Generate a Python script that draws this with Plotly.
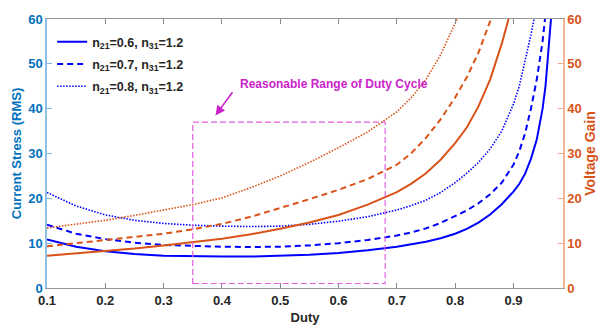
import plotly.graph_objects as go

# Duty cycle samples
duty = [0.1, 0.15, 0.2, 0.25, 0.3, 0.35, 0.4, 0.45, 0.5, 0.55, 0.6, 0.65, 0.7, 0.725, 0.75, 0.775,
        0.8, 0.82, 0.84, 0.86, 0.88, 0.9, 0.91, 0.92, 0.93, 0.94, 0.95, 0.955, 0.96, 0.965]

# Current stress (RMS), left axis
stress_n06 = [10.8, 9.2, 8.2, 7.6, 7.2, 7.05, 7.0, 7.0, 7.15, 7.4, 7.8, 8.4, 9.2, 9.7, 10.3, 11.1,
              12.1, 13.2, 14.6, 16.4, 18.7, 21.5, 23.2, 25.5, 28.8, 33.1, 40.0, 45.0, 52.0, 61.0]
stress_n07 = [14.1, 12.1, 10.9, 10.1, 9.6, 9.35, 9.2, 9.15, 9.2, 9.5, 10.0, 10.7, 11.7, 12.4, 13.3, 14.5,
              16.0, 17.3, 18.9, 20.9, 23.5, 27.5, 30.5, 34.5, 40.0, 46.5, 55.0, 61.0, None, None]
stress_n08 = [21.3, 18.3, 16.3, 15.1, 14.4, 14.0, 13.8, 13.7, 13.8, 14.2, 14.9, 15.9, 17.4, 18.4, 19.6, 21.3,
              23.5, 25.6, 28.0, 31.0, 35.0, 41.0, 45.0, 50.5, 56.5, 63.0, None, None, None, None]

# Voltage gain, right axis
gain_n06 = [7.2, 7.7, 8.2, 8.8, 9.5, 10.2, 11.0, 12.0, 13.2, 14.6, 16.3, 18.6, 21.4, 23.3, 25.6, 28.6,
            32.3, 35.8, 40.5, 46.5, 54.5, 64.0, None, None, None, None, None, None, None, None]
gain_n07 = [9.3, 10.0, 10.8, 11.4, 12.1, 13.1, 14.3, 15.9, 17.8, 19.8, 21.9, 24.3, 27.5, 30.1, 33.5, 37.6,
            42.5, 47.0, 52.5, 59.5, 68.0, None, None, None, None, None, None, None, None, None]
gain_n08 = [13.4, 14.2, 15.1, 16.2, 17.4, 18.6, 20.1, 22.4, 25.0, 28.0, 31.3, 34.8, 39.3, 42.5, 46.5, 52.0,
            59.0, 65.0, None, None, None, None, None, None, None, None, None, None, None, None]

legend_labels = [
    "<b>n<sub>21</sub>=0.6, n<sub>31</sub>=1.2</b>",
    "<b>n<sub>21</sub>=0.7, n<sub>31</sub>=1.2</b>",
    "<b>n<sub>21</sub>=0.8, n<sub>31</sub>=1.2</b>",
]

x_ticks = [0.1, 0.2, 0.3, 0.4, 0.5, 0.6, 0.7, 0.8, 0.9]
y_ticks = [0, 10, 20, 30, 40, 50, 60]

# Highlighted duty-cycle window
range_x = [0.35, 0.68]
range_y = [1, 37]

BLUE = "#0000FF"
ORANGE = "#D95319"
LEFT_C = "#0072BD"
MAGENTA = "#CC22CC"

styles = [("solid", 2.0), ("6px,4px", 2.0), ("1.5px,1.5px", 1.6)]

fig = go.Figure()

for i, (ys, lab, (dash, w)) in enumerate(zip([stress_n06, stress_n07, stress_n08], legend_labels, styles)):
    fig.add_trace(go.Scatter(
        x=duty, y=ys, mode="lines", name=lab, legendgroup="g%d" % i,
        line=dict(color=BLUE, width=w, dash=dash),
        connectgaps=False, yaxis="y",
    ))

for ys, (dash, w) in zip([gain_n06, gain_n07, gain_n08], styles):
    fig.add_trace(go.Scatter(
        x=duty, y=ys, mode="lines", showlegend=False,
        line=dict(color=ORANGE, width=w, dash=dash),
        connectgaps=False, yaxis="y2",
    ))

# Dashed box marking the reasonable duty range
fig.add_shape(type="rect", xref="x", yref="y",
              x0=range_x[0], x1=range_x[1], y0=range_y[0], y1=range_y[1],
              line=dict(color="#E060E0", width=1.2, dash="6px,3px"))

fig.add_annotation(
    x=0.389, y=38.5, ax=0.42, ay=44, xref="x", yref="y", axref="x", ayref="y",
    text="", showarrow=True, arrowhead=2, arrowsize=1.2, arrowwidth=1.6,
    arrowcolor=MAGENTA,
)
fig.add_annotation(
    x=0.428, y=45.6, xref="x", yref="y", xanchor="left", yanchor="middle",
    text="<b>Reasonable Range of Duty Cycle</b>", showarrow=False,
    font=dict(color=MAGENTA, size=12, family="Liberation Sans, Arial"),
)

tick_font = dict(family="Liberation Sans, Arial", size=13)

fig.update_layout(
    width=608, height=335,
    margin=dict(l=47, r=41, t=13, b=46),
    plot_bgcolor="white", paper_bgcolor="white",
    font=dict(family="Liberation Sans, Arial", color="#262626"),
    showlegend=True,
    legend=dict(x=0.01, y=0.97, xanchor="left", yanchor="top",
                bgcolor="rgba(0,0,0,0)", borderwidth=0,
                font=dict(size=12.5, color="#262626"),
                itemwidth=30, tracegroupgap=3),
    xaxis=dict(
        range=[0.1, 0.985], tickvals=x_ticks,
        ticktext=["<b>%.1f</b>" % v for v in x_ticks],
        ticks="inside", ticklen=5, tickcolor="#888888",
        showline=True, linecolor="#999999", linewidth=1, mirror="ticks",
        showgrid=False, zeroline=False,
        tickfont=dict(tick_font, color="#262626"),
        title=dict(text="<b>Duty</b>", font=dict(size=13, color="#262626"), standoff=6),
    ),
    yaxis=dict(
        range=[0, 60], tickvals=y_ticks,
        ticktext=["<b>%d</b>" % v for v in y_ticks],
        ticks="inside", ticklen=5, tickcolor="#7FB8DE",
        showline=True, linecolor="#8FC1E3", linewidth=1.5,
        showgrid=False, zeroline=False,
        tickfont=dict(tick_font, color=LEFT_C),
        title=dict(text="<b>Current Stress (RMS)</b>", font=dict(size=13, color=LEFT_C), standoff=4),
    ),
    yaxis2=dict(
        range=[0, 60], tickvals=y_ticks,
        ticktext=["<b>%d</b>" % v for v in y_ticks],
        overlaying="y", side="right",
        ticks="inside", ticklen=5, tickcolor="#EEA98A",
        showline=True, linecolor="#F0B498", linewidth=1.5,
        showgrid=False, zeroline=False,
        tickfont=dict(tick_font, color=ORANGE),
        title=dict(text="<b>Voltage Gain</b>", font=dict(size=14, color=ORANGE), standoff=4),
    ),
)

fig.write_html("out.html")
